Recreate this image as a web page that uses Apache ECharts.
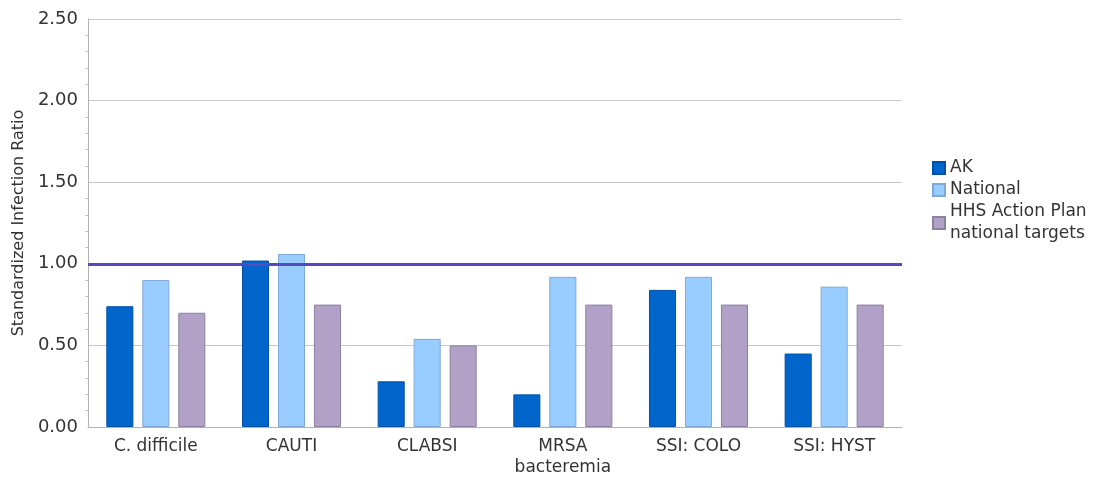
<!DOCTYPE html>
<html><head><meta charset="utf-8">
<script src="https://cdn.jsdelivr.net/npm/echarts@6/dist/echarts.min.js"></script>
<style>html,body{margin:0;padding:0;background:#fff;overflow:hidden}#c{width:1097px;height:478px}</style>
</head><body><div id="c"></div>
<script>
const categories = ['C. difficile', 'CAUTI', 'CLABSI', 'MRSA\nbacteremia', 'SSI: COLO', 'SSI: HYST'];
const akValues = [0.74, 1.02, 0.28, 0.20, 0.84, 0.45];
const nationalValues = [0.90, 1.06, 0.54, 0.92, 0.92, 0.86];
const targetValues = [0.70, 0.75, 0.50, 0.75, 0.75, 0.75];
const referenceLine = 1.0;
const yTicks = [0, 0.5, 1.0, 1.5, 2.0, 2.5];

const font = '"DejaVu Sans", "Liberation Sans", Arial, sans-serif';
const chart = echarts.init(document.getElementById('c'));
chart.setOption({
  animation: false,
  textStyle: { fontFamily: font },
  grid: { left: 88, top: 19, width: 814, height: 412 },
  legend: {
    orient: 'vertical', left: 927, top: 152,
    icon: 'rect', itemWidth: 12, itemHeight: 12, itemGap: 0,
    textStyle: { fontSize: 17, color: '#333', fontFamily: font, lineHeight: 22 },
    data: ['AK', 'National', 'HHS Action Plan\nnational targets']
  },
  xAxis: {
    type: 'category', data: categories,
    axisLine: { lineStyle: { color: '#b3b3b3', width: 1 } },
    axisTick: { show: false },
    axisLabel: { fontSize: 17, color: '#333', fontFamily: font, margin: 9, lineHeight: 21 }
  },
  yAxis: {
    type: 'value', min: yTicks[0], max: yTicks[yTicks.length - 1], interval: 0.5,
    name: 'Standardized Infection Ratio', nameLocation: 'middle', nameGap: 60,
    nameTextStyle: { fontSize: 16, color: '#333', fontFamily: font },
    axisLine: { show: true, lineStyle: { color: '#b3b3b3' } },
    axisTick: { show: false },
    minorTick: { show: true, splitNumber: 5, length: 3, lineStyle: { color: '#c8c8c8' } },
    splitLine: { lineStyle: { color: '#c8c8c8' } },
    axisLabel: { fontSize: 18, color: '#333', fontFamily: font, margin: 10, formatter: v => v.toFixed(2) }
  },
  series: [
    { name: 'AK', type: 'bar', data: akValues, barGap: '33%', barCategoryGap: '27%',
      itemStyle: { color: '#0066cc', borderColor: '#0050a8', borderWidth: 1 },
      markLine: { silent: true, symbol: 'none', label: { show: false },
        lineStyle: { color: '#5548c4', width: 3, type: 'solid' },
        data: [{ yAxis: referenceLine }] } },
    { name: 'National', type: 'bar', data: nationalValues,
      itemStyle: { color: '#99ccff', borderColor: '#80a8d6', borderWidth: 1 } },
    { name: 'HHS Action Plan\nnational targets', type: 'bar', data: targetValues,
      itemStyle: { color: '#b2a1c7', borderColor: '#8d80a3', borderWidth: 1 } }
  ]
});
</script></body></html>
